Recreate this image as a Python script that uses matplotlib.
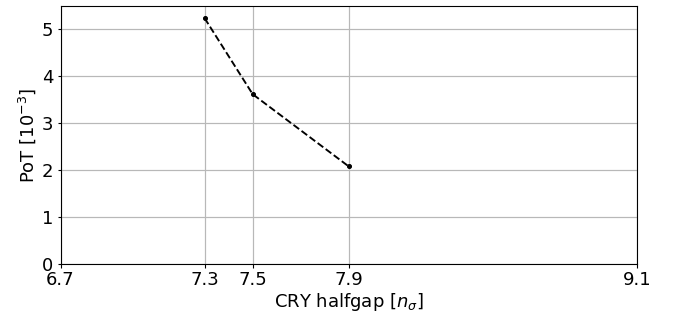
import matplotlib
matplotlib.use('Agg')
import matplotlib.pyplot as plt

halfgap = [7.3, 7.5, 7.9]
pot = [5.24, 3.62, 2.08]
xticks = [6.7, 7.3, 7.5, 7.9, 9.1]

plt.rcParams['font.size'] = 18
plt.rcParams['axes.linewidth'] = 1.1
plt.rcParams['xtick.major.width'] = 1.1
plt.rcParams['ytick.major.width'] = 1.1

fig, ax = plt.subplots(figsize=(676/72, 313/72), dpi=72)
fig.subplots_adjust(left=60.5/676, right=637/676, top=1-6/313, bottom=1-264/313)

ax.plot(halfgap, pot, 'k--', lw=1.9, marker='o', markersize=4)
ax.set_xlim(6.7, 9.1)
ax.set_ylim(0, 5.5)
ax.set_xticks(xticks)
ax.set_xticklabels([str(x) for x in xticks])
ax.set_xlabel(r'CRY halfgap [$n_\sigma$]', labelpad=2)
ax.set_ylabel(r'PoT [$10^{-3}$]')
ax.grid(lw=1.2, color='#b8b8b8')

fig.savefig('out.png', dpi=72)
